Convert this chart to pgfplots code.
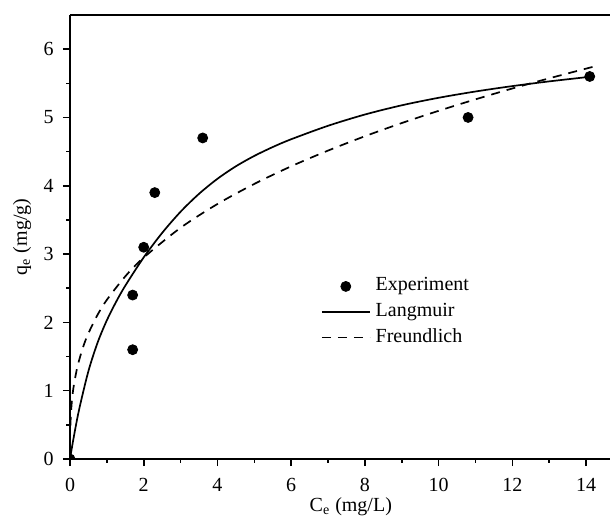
\documentclass[border=0pt]{standalone}
\usepackage{fontspec}
\setmainfont{Liberation Serif}
\usepackage{pgfplots}
\pgfplotsset{compat=1.18}
\pgfplotsset{
  lineleg/.style={legend image code/.code={\draw[##1] (0bp,0bp) -- (24bp,0bp);}},
  markleg/.style={legend image code/.code={\draw[##1,mark repeat=2,mark phase=2] plot coordinates {(0bp,0bp) (12bp,0bp) (24bp,0bp)};}},
}
\begin{document}
\begin{tikzpicture}[font=\fontsize{10bp}{12bp}\selectfont]
\begin{axis}[
  name=ax,
  width=270bp, height=222bp,
  scale only axis,
  xmin=0, xmax=14.65,
  ymin=0, ymax=6.5,
  axis lines=left,
  axis line style={-, line width=1bp, black},
  xtick={0,2,...,14},
  ytick={0,1,...,6},
  minor x tick num=1,
  minor y tick num=1,
  tick align=outside,
  tick style={line width=0.8bp, black},
  major tick length=3.6bp,
  minor tick length=1.8bp,
  /pgf/number format/assume math mode=true,
  xticklabel style={inner sep=0pt, anchor=north},
  yticklabel style={inner sep=0pt, anchor=east},
  xticklabel shift=5.8bp,
  yticklabel shift=4.4bp,
  xlabel={C\textsubscript{e} (mg/L)},
  ylabel={q\textsubscript{e} (mg/g)},
  xlabel style={at={(axis description cs:0.52,-0.1182)}, anchor=base, inner sep=0pt},
  ylabel style={at={(axis description cs:-0.0889,0.5)}, anchor=center, inner sep=0pt},
  clip marker paths=true,
  legend cell align=left,
  legend style={draw=none, fill=none, inner sep=0pt,
    at={(axis description cs:0.464,0.331)}, anchor=west,
    nodes={inner sep=0pt, text height=7bp, text depth=2.5bp},
    row sep=3.3bp,
    /tikz/every odd column/.append style={column sep=2.5bp}},
]
\addplot[only marks, mark=*, mark size=2.5bp, black, markleg]
  coordinates {(0,0) (1.7,1.6) (1.7,2.4) (2.0,3.1) (2.3,3.9) (3.6,4.7) (10.8,5.0) (14.1,5.6)};
\addlegendentry{Experiment}
\addplot[smooth, no marks, black, line width=0.85bp, lineleg]
  coordinates {(0,0) (0.1,0.315) (0.25,0.731) (0.5,1.287) (0.75,1.706) (1,2.031) (1.25,2.300)
  (1.5,2.537) (2,2.952) (2.5,3.310) (3,3.620) (3.5,3.882) (4,4.102) (4.5,4.285) (5,4.437)
  (5.5,4.567) (6,4.681) (7,4.878) (8,5.043) (9,5.178) (10,5.288) (11,5.380) (12,5.459)
  (13,5.528) (14.1,5.595)};
\addlegendentry{Langmuir}
\addplot[smooth, no marks, black, line width=0.85bp, dash pattern=on 4.5bp off 3.5bp, lineleg]
  coordinates {(0.01,0.487) (0.03,0.707) (0.06,0.895) (0.1,1.065) (0.2,1.348) (0.35,1.631)
  (0.5,1.841) (0.75,2.113) (1,2.33) (1.5,2.674) (2,2.949) (3,3.385) (4,3.733) (5,4.027)
  (6,4.285) (7,4.515) (8,4.725) (9,4.918) (10,5.097) (11,5.265) (12,5.424) (13,5.573) (14.2,5.743)};
\addlegendentry{Freundlich}
\draw[line width=1bp, black] (rel axis cs:0,1) -- (rel axis cs:1,1);
\end{axis}
\pgfresetboundingbox
\path ([xshift=-35bp,yshift=-29.5bp]ax.south west) rectangle ([yshift=7.5bp]ax.north east);
\end{tikzpicture}
\end{document}
